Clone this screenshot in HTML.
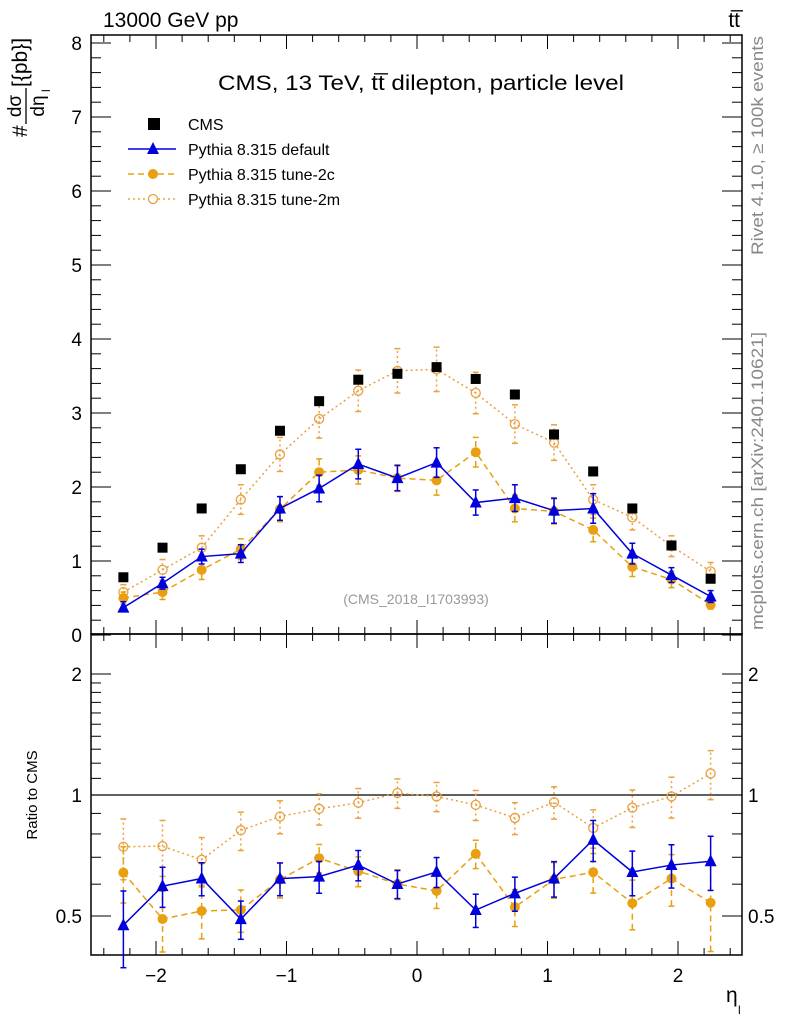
<!DOCTYPE html>
<html><head><meta charset="utf-8"><style>
html,body{margin:0;padding:0;background:#fff;}
svg text{font-family:"Liberation Sans",sans-serif;}
</style></head><body>
<svg id="c" width="786" height="1024" xmlns="http://www.w3.org/2000/svg"></svg>
<script>
const binCenters=[-2.25,-1.95,-1.65,-1.35,-1.05,-0.75,-0.45,-0.15,0.15,0.45,0.75,1.05,1.35,1.65,1.95,2.25];
const cmsValues=[0.78,1.18,1.71,2.24,2.76,3.16,3.45,3.53,3.62,3.46,3.25,2.71,2.21,1.71,1.21,0.76];
const defValues=[0.37,0.70,1.06,1.10,1.71,1.98,2.31,2.12,2.33,1.79,1.85,1.68,1.71,1.10,0.81,0.52];
const defErrors=[0.08,0.08,0.1,0.12,0.16,0.18,0.2,0.17,0.2,0.17,0.18,0.17,0.2,0.14,0.1,0.08];
const t2cValues=[0.50,0.58,0.88,1.16,1.70,2.20,2.23,2.12,2.09,2.47,1.71,1.67,1.42,0.92,0.75,0.41];
const t2cErrors=[0.08,0.1,0.13,0.14,0.17,0.18,0.19,0.18,0.2,0.2,0.18,0.17,0.16,0.13,0.11,0.1];
const t2mValues=[0.58,0.88,1.18,1.83,2.44,2.92,3.30,3.57,3.59,3.27,2.85,2.60,1.83,1.59,1.20,0.86];
const t2mErrors=[0.1,0.14,0.16,0.2,0.23,0.26,0.28,0.3,0.3,0.28,0.26,0.24,0.2,0.17,0.14,0.12];
const xTicks=[-2,-1,0,1,2];
const yTicks=[0,1,2,3,4,5,6,7,8];
const rTicks=[0.5,1,2];

const NS="http://www.w3.org/2000/svg";
const svg=document.getElementById('c');
const L=91,R=742,T=35,MB=634,RB=955;
const X=v=>417+v*130.5;
const Y=v=>635-v*74;
const RY=v=>795-Math.log(v)/Math.log(2)*121;
function el(tag,a,parent){const e=document.createElementNS(NS,tag);for(const k in a)e.setAttribute(k,a[k]);(parent||svg).appendChild(e);return e;}
function txt(s,a){const e=el('text',a);e.textContent=s;return e;}

let f=el('rect',{x:L,y:T,width:R-L,height:MB-T,fill:'none',stroke:'#000','stroke-width':1.5});


f=el('rect',{x:L,y:MB,width:R-L,height:RB-MB,fill:'none',stroke:'#000','stroke-width':1.5});



for(let v=-2.4;v<=2.41;v+=0.2){const x=X(v);const maj=Math.abs(v-Math.round(v))<0.01;const len=maj?14:7;
 [[T,1],[MB,-1],[MB,1],[RB,-1]].forEach(([y,d])=>el('line',{x1:x,x2:x,y1:y,y2:y+d*len,stroke:'#000'}));}
xTicks.forEach(v=>{const t=txt(v<0?'\u2212'+(-v):String(v),{x:X(v),y:982,'font-size':19,'text-anchor':'middle'});
 
 });
for(let v=0;v<=8.01;v+=0.2){const y=Y(v);const maj=Math.abs(v-Math.round(v))<0.01;const len=maj?20:10;
 el('line',{x1:L,x2:L+len,y1:y,y2:y,stroke:'#000'});el('line',{x1:R,x2:R-len,y1:y,y2:y,stroke:'#000'});}
yTicks.forEach(v=>{const t=txt(String(v),{x:82,y:Y(v)+7,'font-size':19,'text-anchor':'end'});
 
 });
[0.4,0.5,0.6,0.7,0.8,0.9,1,1.1,1.2,1.3,1.4,1.5,1.6,1.7,1.8,1.9,2,2.5].forEach(v=>{const y=RY(v);if(y<MB||y>RB)return;const maj=rTicks.includes(v);const len=maj?20:10;
 el('line',{x1:L,x2:L+len,y1:y,y2:y,stroke:'#000'});el('line',{x1:R,x2:R-len,y1:y,y2:y,stroke:'#000'});});
rTicks.forEach(v=>{let t=txt(String(v),{x:82,y:RY(v)+7,'font-size':19,'text-anchor':'end'});
 
 
 t=txt(String(v),{x:748,y:RY(v)+7,'font-size':19});
 
 });
el('line',{x1:L,x2:R,y1:RY(1),y2:RY(1),stroke:'#000','stroke-width':1.2});

function series(vals,errs,panel,style,name){
 const yf=panel==='main'?Y:RY;
 const g=el('g',{});
 
 
 const pts=binCenters.map((c,i)=>[X(c),yf(vals[i])]);
 el('polyline',{points:pts.map(p=>p.join(',')).join(' '),fill:'none',stroke:style.c,'stroke-width':1.5,'stroke-dasharray':style.d},g);
 binCenters.forEach((c,i)=>{
  const x=X(c);
  if(errs){const lo=Math.max(vals[i]-errs[i],0.35),hi=vals[i]+errs[i];
   const y1=yf(lo),y2=Math.max(yf(hi),panel==='main'?T:MB);
   el('line',{x1:x,x2:x,y1:y1,y2:y2,stroke:style.c,'stroke-width':1.5,'stroke-dasharray':style.d},g);
   el('line',{x1:x-3,x2:x+3,y1:y1,y2:y1,stroke:style.c,'stroke-width':1.5},g);
   el('line',{x1:x-3,x2:x+3,y1:y2,y2:y2,stroke:style.c,'stroke-width':1.5},g);}
  const y=yf(vals[i]);
  let m;
  if(style.m==='tri')m=el('polygon',{points:`${x},${y-7} ${x-6},${y+5} ${x+6},${y+5}`,fill:style.c},g);
  else if(style.m==='dot')m=el('circle',{cx:x,cy:y,r:5,fill:style.c},g);
  else m=el('circle',{cx:x,cy:y,r:4.5,fill:'none',stroke:style.c,'stroke-width':1.3},g);
  
  
 });
}
const sDef={c:'#0000dd',d:'',m:'tri'},s2c={c:'#e8a010',d:'6,4',m:'dot'},s2m={c:'#eba040',d:'2,3',m:'ring'};
series(t2mValues,t2mErrors,'main',s2m,'tune-2m-series');
series(t2cValues,t2cErrors,'main',s2c,'tune-2c-series');
series(defValues,defErrors,'main',sDef,'default-series');
binCenters.forEach((c,i)=>{const r=el('rect',{x:X(c)-5,y:Y(cmsValues[i])-5,width:10,height:10,fill:'#000'});
 
 });
const rat=(a)=>a.map((v,i)=>v/cmsValues[i]);
series(rat(t2mValues),rat(t2mErrors),'ratio',s2m,'ratio-tune-2m');
series(rat(t2cValues),rat(t2cErrors),'ratio',s2c,'ratio-tune-2c');
series(rat(defValues),rat(defErrors),'ratio',sDef,'ratio-default');

let t;
t=txt('13000 GeV pp',{x:103,y:27,'font-size':21});
t=txt('tt\u0305',{x:740,y:27,'font-size':21,'text-anchor':'end'});
t=txt('CMS, 13 TeV, tt\u0305 dilepton, particle level',{x:218,y:90,'font-size':21,textLength:406,lengthAdjust:'spacingAndGlyphs'});
t=txt('(CMS_2018_I1703993)',{x:416,y:604,'font-size':14,fill:'#999','text-anchor':'middle'});
t=txt('Rivet 4.1.0, \u2265 100k events',{x:0,y:0,'font-size':17,fill:'#888',textLength:219,lengthAdjust:'spacingAndGlyphs',transform:'translate(763,255) rotate(-90)'});
t=txt('mcplots.cern.ch [arXiv:2401.10621]',{x:0,y:0,'font-size':17,fill:'#888',textLength:298,lengthAdjust:'spacingAndGlyphs',transform:'translate(763,630) rotate(-90)'});
t=txt('#',{x:0,y:0,'font-size':21,transform:'translate(27,137) rotate(-90)'});
txt('d\u03c3',{x:0,y:0,'font-size':19,transform:'translate(21,106) rotate(-90)','text-anchor':'middle'});
txt('d\u03b7',{x:0,y:0,'font-size':19,transform:'translate(44,106) rotate(-90)','text-anchor':'middle'});
txt('l',{x:0,y:0,'font-size':12,transform:'translate(50,92) rotate(-90)'});
el('line',{x1:26,x2:26,y1:88,y2:124,stroke:'#000','stroke-width':1.3});
txt('[{pb}]',{x:0,y:0,'font-size':21,transform:'translate(27,87) rotate(-90)'});
t=txt('Ratio to CMS',{x:0,y:0,'font-size':15,'text-anchor':'middle',transform:'translate(37,795) rotate(-90)'});
t=txt('\u03b7',{x:726,y:1002,'font-size':21});
txt('l',{x:738,y:1014,'font-size':12});

const legNames=['CMS','Pythia 8.315 default','Pythia 8.315 tune-2c','Pythia 8.315 tune-2m'];
const legSt=[null,sDef,s2c,s2m];
legNames.forEach((n,i)=>{const y=124+i*25;const g=el('g',{});
 
 
 if(i===0)el('rect',{x:148,y:y-6,width:12,height:12,fill:'#000'},g);
 else{const s=legSt[i];el('line',{x1:128,x2:176,y1:y,y2:y,stroke:s.c,'stroke-width':1.5,'stroke-dasharray':s.d},g);
  if(s.m==='tri')el('polygon',{points:`153,${y-7} 147,${y+5} 159,${y+5}`,fill:s.c},g);
  else if(s.m==='dot')el('circle',{cx:153,cy:y,r:5,fill:s.c},g);
  else el('circle',{cx:153,cy:y,r:4.5,fill:'#fff',stroke:s.c,'stroke-width':1.3},g);}
 const tt=el('text',{x:188,y:y+6,'font-size':16},g);tt.textContent=n;});
</script>
</body></html>
